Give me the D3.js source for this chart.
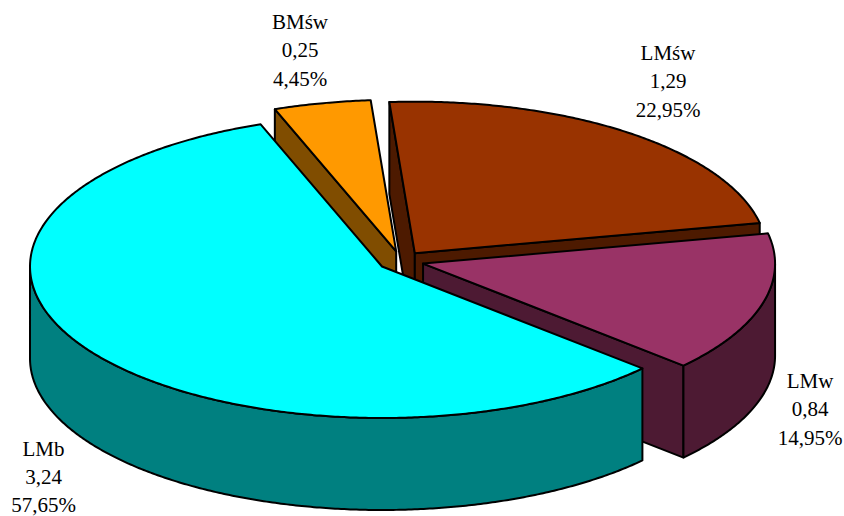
<!DOCTYPE html>
<html><head><meta charset="utf-8">
<script src="https://cdn.jsdelivr.net/npm/d3@7"></script>
<style>html,body{margin:0;padding:0;background:#fff}svg{display:block}text{font-family:"Liberation Serif","Times New Roman",serif;fill:#000}</style>
</head><body><script>
const categories=["LMśw","LMw","LMb","BMśw"];
const values=[1.29,0.84,3.24,0.25];
const percents=["22,95%","14,95%","57,65%","4,45%"];
const valueLabels=["1,29","0,84","3,24","0,25"];
const topColors=["#993300","#993366","#00FFFF","#FF9900"];
const wallColors=["#4D1A00","#4D1A33","#008080","#804D00"];
const drawOrder=[0,3,1,2];
const W=844,H=516,cx=401,cy=261,rx=352,ry=151.5,depth=92,explode=0.065;
const rad=Math.PI/180;
const pie=d3.pie().value(d=>d).sort(null).startAngle(-4.15*rad).endAngle(355.85*rad);
const arcs=pie(values);
const svg=d3.select("body").append("svg").attr("width",W).attr("height",H);
const sx=d3.scaleLinear().domain([-1,1]).range([-rx,rx]);
const sy=d3.scaleLinear().domain([-1,1]).range([-ry,ry]);
// d3 pie angle: 0 at top, clockwise
const proj=(a,r,ox,oy,z)=>[ox+sx(r*Math.sin(a)),oy+sy(-r*Math.cos(a))+z];
const line=d3.line();
function arcPts(a0,a1,ox,oy,z){
  const n=Math.max(2,Math.ceil((a1-a0)/(0.5*rad)));
  return d3.range(n+1).map(i=>proj(a0+(a1-a0)*i/n,1,ox,oy,z));
}
const g=svg.append("g").attr("stroke","#000").attr("stroke-width",2).attr("stroke-linejoin","round");
function poly(pts,fill){g.append("path").attr("d",line(pts)+"Z").attr("fill",fill);}
drawOrder.forEach(i=>{
  const d=arcs[i],mid=(d.startAngle+d.endAngle)/2;
  const [ox,oy]=proj(mid,explode,cx,cy,0);
  const c0=[ox,oy],c1=[ox,oy+depth];
  const wall=wallColors[i];
  // cut faces that look toward the viewer
  const startVisible=Math.sin(d.startAngle)<0;
  const endVisible=Math.sin(d.endAngle)>0;
  if(startVisible){const a=proj(d.startAngle,1,ox,oy,0),b=proj(d.startAngle,1,ox,oy,depth);poly([c0,a,b,c1],wall);}
  if(endVisible){const a=proj(d.endAngle,1,ox,oy,0),b=proj(d.endAngle,1,ox,oy,depth);poly([c0,a,b,c1],wall);}
  // outer wall: the front half of the ellipse lies between 90 and 270 degrees
  [[90,270],[450,630]].forEach(([lo,hi])=>{
    const a0=Math.max(d.startAngle,lo*rad),a1=Math.min(d.endAngle,hi*rad);
    if(a1>a0){poly(arcPts(a0,a1,ox,oy,0).concat(arcPts(a0,a1,ox,oy,depth).reverse()),wall);}
  });
  poly([c0].concat(arcPts(d.startAngle,d.endAngle,ox,oy,0)),topColors[i]);
});
const labelAnchors=[[668,60],[810,388],[43.5,455.5],[300,29]];
const lineGap=28.3;
arcs.forEach((d,i)=>{
  const t=svg.append("text").attr("text-anchor","middle").attr("font-size",21);
  [categories[i],valueLabels[i],percents[i]].forEach((s,j)=>{
    t.append("tspan").attr("x",labelAnchors[i][0]).attr("y",labelAnchors[i][1]+j*lineGap).text(s);
  });
});
</script></body></html>
